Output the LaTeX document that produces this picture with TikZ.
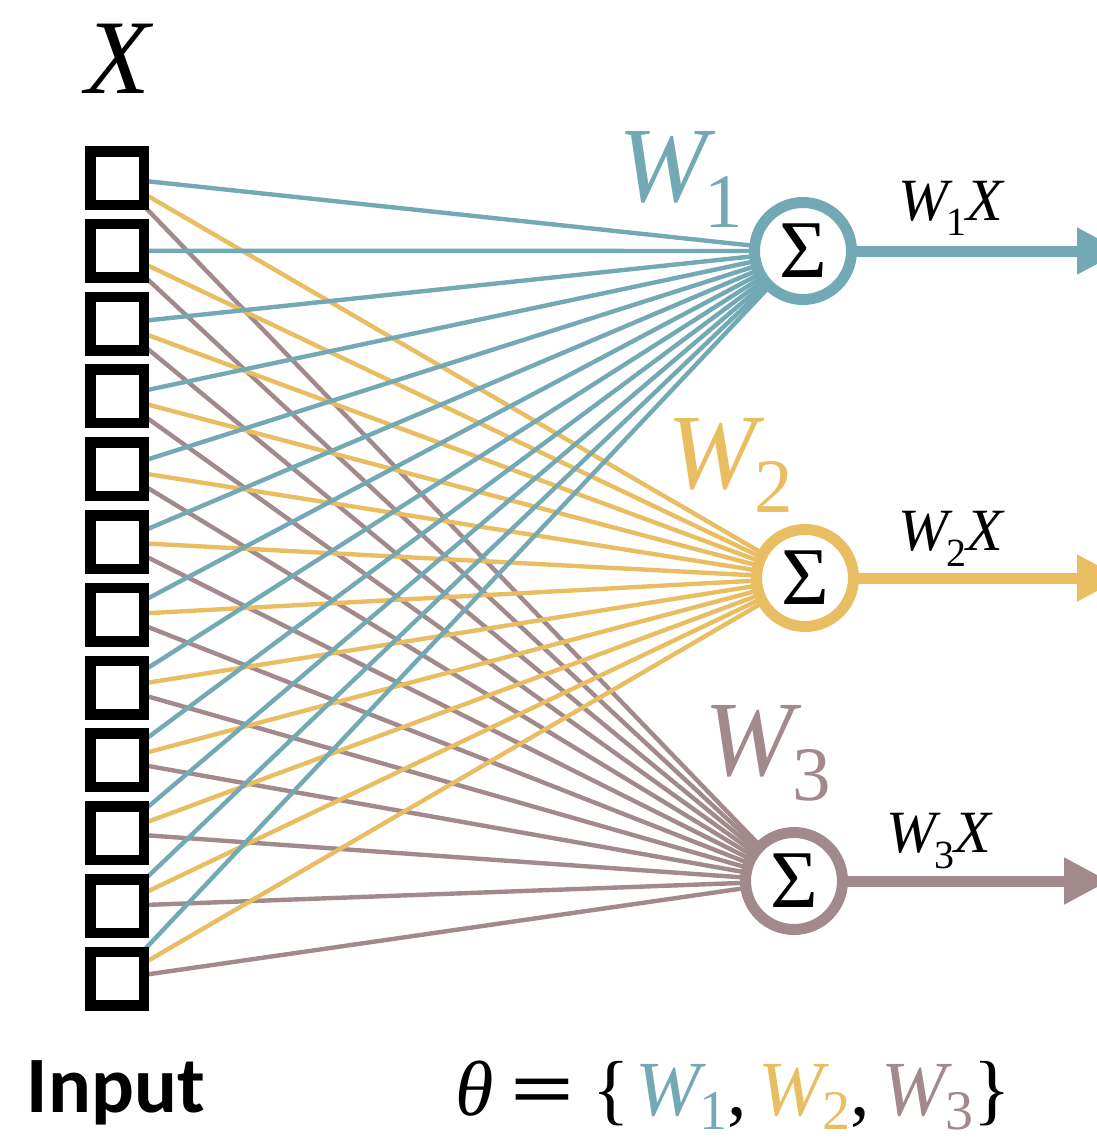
\documentclass[tikz,border=0pt]{standalone}
\usepackage{fontspec}
\setmainfont{Liberation Serif}
\newfontfamily\inputfont{Carlito}
\usetikzlibrary{arrows.meta,backgrounds}
\definecolor{cteal}{HTML}{73A9B4}
\definecolor{cyel}{HTML}{E9BD62}
\definecolor{cmauve}{HTML}{A2898B}
\newcommand{\fsz}[1]{\fontsize{#1}{#1}\selectfont}
\begin{document}
\begin{tikzpicture}[x=1pt,y=-1pt,
  sq/.style={draw=black, fill=white, line width=10.5pt, minimum size=53.5pt, inner sep=0pt, outer sep=0pt},
  sumnode/.style={circle, fill=white, line width=11pt, minimum size=97pt, inner sep=0pt, outer sep=0pt, font=\fsz{82}},
  conn/.style={line width=4.4pt},
  outarrow/.style={line width=11pt, -{Triangle[length=45pt,width=44pt]}},
  lbl/.style={anchor=base west, inner sep=0pt, outer sep=0pt},
  ]
\useasboundingbox (0,0) rectangle (1097,1140);
\clip (0,0) rectangle (1097,1140);
% input squares
\foreach \i in {1,...,12} \node[sq] (s\i) at (117,{178+72.8*(\i-1)}) {};
% summation nodes
\node[sumnode, draw=cteal] (c1) at (803,251) {Σ};
\node[sumnode, draw=cyel] (c2) at (805,578) {Σ};
\node[sumnode, draw=cmauve] (c3) at (794,881) {Σ};
% connectors
\begin{pgfonlayer}{background}
\foreach \i in {1,...,12} {
  \draw[conn, cteal] (s\i.center) -- (c1.center);
  \draw[conn, cyel] (s\i.center) -- (c2.center);
  \draw[conn, cmauve] (s\i.center) -- (c3.center);
}
\end{pgfonlayer}
% outputs
\coordinate (o1) at (1122,251);
\coordinate (o2) at (1122,578);
\coordinate (o3) at (1109,881);
\draw[outarrow, cteal] (c1.east) -- (o1);
\draw[outarrow, cyel] (c2.east) -- (o2);
\draw[outarrow, cmauve] (c3.east) -- (o3);
% labels
\node[anchor=base, inner sep=0pt, font=\fsz{106}\itshape] (xl) at (118,93) {X};
\node[lbl, text=cteal, font=\fsz{107}] (w1) at (618,201) {\textit{W}\hspace{-11pt}\raisebox{-26pt}{\fsz{77}1}};
\node[lbl, text=cyel, font=\fsz{107}] (w2) at (667,488) {\textit{W}\hspace{-10pt}\raisebox{-24pt}{\fsz{77}2}};
\node[lbl, text=cmauve, font=\fsz{107}] (w3) at (704,775) {\textit{W}\hspace{-9pt}\raisebox{-25pt}{\fsz{77}3}};
\node[lbl, font=\fsz{60}] (y1) at (898,220) {\textit{W}\hspace{-6pt}\raisebox{-15pt}{\fsz{40}1}\hspace{0pt}\textit{X}};
\node[lbl, font=\fsz{60}] (y2) at (898,550) {\textit{W}\hspace{-6pt}\raisebox{-16pt}{\fsz{40}2}\hspace{0pt}\textit{X}};
\node[lbl, font=\fsz{60}] (y3) at (886,852) {\textit{W}\hspace{-6pt}\raisebox{-16pt}{\fsz{40}3}\hspace{0pt}\textit{X}};
\node[lbl, font=\inputfont\bfseries\fsz{80}] (inp) at (27,1112) {Input};
\node[lbl, font=\fsz{78}] (theta) at (455,1115) {\textit{θ}\hspace{0.22em}\scalebox{1.45}[1.0]{\textbf{=}}\hspace{0.22em}\{\hspace{0.08em}\textcolor{cteal}{\textit{W}\hspace{-7pt}\raisebox{-14pt}{\fsz{56}1}},\hspace{0.15em}\textcolor{cyel}{\textit{W}\hspace{-7pt}\raisebox{-14pt}{\fsz{56}2}},\hspace{0.15em}\textcolor{cmauve}{\textit{W}\hspace{-7pt}\raisebox{-14pt}{\fsz{56}3}}\}};
\end{tikzpicture}
\end{document}
